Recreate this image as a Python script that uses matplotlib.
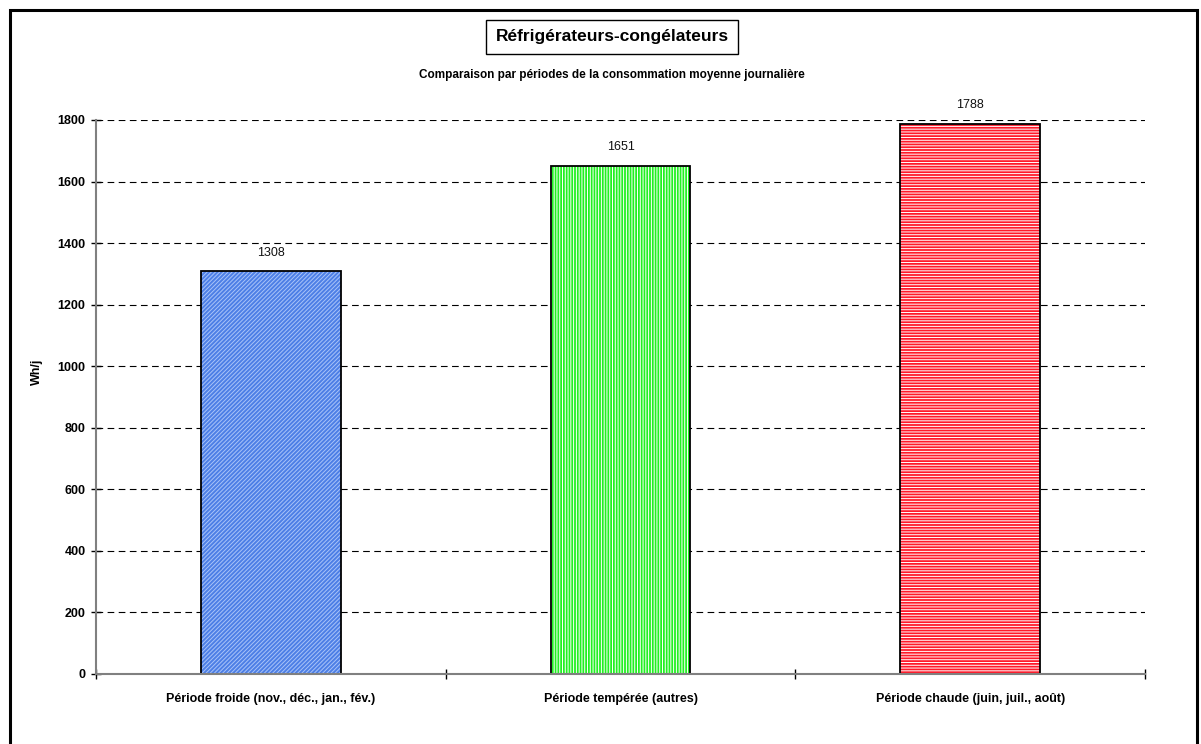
import matplotlib
matplotlib.use("Agg")
import matplotlib.pyplot as plt
from matplotlib.patches import Rectangle

plt.rcParams['font.family'] = ['Liberation Sans', 'DejaVu Sans']
plt.rcParams['hatch.linewidth'] = 0.7

# Consommation moyenne journalière par période (Wh/j)
periodes = ['Période froide (nov., déc., jan., fév.)',
            'Période tempérée (autres)',
            'Période chaude (juin, juil., août)']
consommation = [1308, 1651, 1788]
y_ticks = [0, 200, 400, 600, 800, 1000, 1200, 1400, 1600, 1800]

couleurs = ['#4d7fe6', '#22f022', '#ff1a2a']
hachures_couleurs = ['#a9c4f8', '#ffffff', '#ffffff']
hachures = ['////////', '||||||', '------']

fig = plt.figure(figsize=(12.01, 7.44), dpi=100)
ax = fig.add_axes([96 / 1201, 1 - 674 / 744, (1145 - 96) / 1201, (674 - 120) / 744])

x = range(len(periodes))
for i, v in enumerate(consommation):
    ax.bar(i, v, width=0.4, color=couleurs[i], edgecolor=hachures_couleurs[i],
           hatch=hachures[i], linewidth=0, zorder=3)
    ax.bar(i, v, width=0.4, fill=False, edgecolor='black', linewidth=1.3, zorder=4)
    ax.annotate(str(v), (i, v), xytext=(0, 9), textcoords='offset points',
                ha='center', va='bottom', fontsize=9, color='#111111')

ax.set_xlim(-0.5, 2.5)
ax.set_ylim(0, 1800)
ax.set_yticks(y_ticks)
ax.set_xticks(list(x))
ax.set_xticklabels(periodes, fontsize=9, fontweight='bold')
ax.set_xticks([-0.5, 0.5, 1.5, 2.5], minor=True)
ax.tick_params(axis='x', which='major', length=0, pad=14)
ax.tick_params(axis='x', which='minor', length=7, direction='inout', width=1, color='black')
ax.tick_params(axis='y', length=7, direction='inout', width=1, color='black', pad=4)
for lab in ax.get_yticklabels():
    lab.set_fontweight('bold')
    lab.set_fontsize(9)

ax.grid(axis='y', color='black', linestyle=(0, (6, 4)), linewidth=0.8, zorder=1)
for s in ['top', 'right']:
    ax.spines[s].set_visible(False)
for s in ['left', 'bottom']:
    ax.spines[s].set_color('#808080')
    ax.spines[s].set_linewidth(1.5)
    ax.spines[s].set_zorder(5)

ax.set_ylabel('Wh/j', fontsize=9, fontweight='bold')
ax.yaxis.set_label_coords((43 - 96) / 1049, (674 - 372) / 554)

fig.text(612 / 1201, 1 - 37 / 744, 'Réfrigérateurs-congélateurs', ha='center', va='center',
         fontsize=12.5, fontweight='bold',
         bbox=dict(boxstyle='square,pad=0.55', facecolor='white', edgecolor='black', linewidth=1))
fig.text(612 / 1201, 1 - 75 / 744, 'Comparaison par périodes de la consommation moyenne journalière',
         ha='center', va='center', fontsize=8.5, fontweight='bold')

# cadre extérieur
fig.patches.append(Rectangle((10 / 1201, -0.1), (1197 - 10) / 1201, 1 - 10 / 744 + 0.1,
                             transform=fig.transFigure, fill=False, edgecolor='black',
                             linewidth=2.2))

fig.savefig('out.png', dpi=100)
